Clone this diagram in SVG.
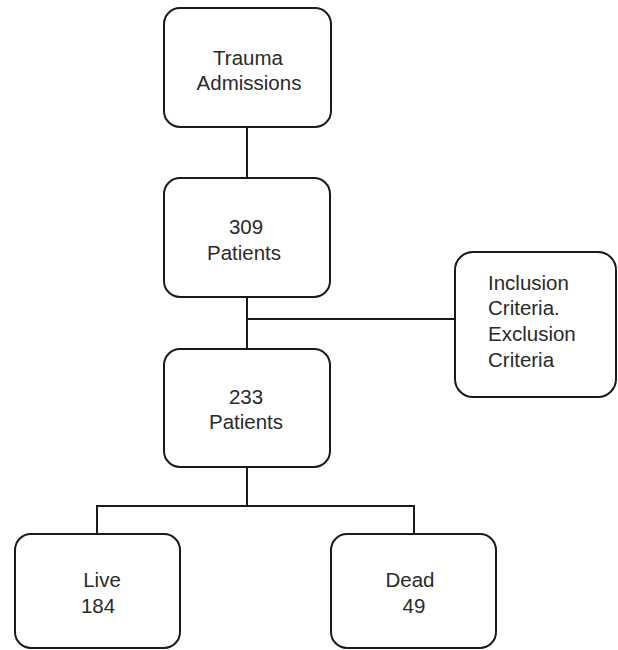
<svg xmlns="http://www.w3.org/2000/svg" width="618" height="650" viewBox="0 0 618 650">
<style>
.box{fill:#fff;stroke:#1a1a1a;stroke-width:2}
.ln{fill:none;stroke:#1a1a1a;stroke-width:2}
text{font-family:"Liberation Sans",Arial,sans-serif;font-size:20.5px;fill:#2a2a2a}
.c{text-anchor:middle}
</style>
<rect width="618" height="650" fill="#fff"/>
<g id="connectors">
<line class="ln" x1="247" y1="127" x2="247" y2="177"/>
<line class="ln" x1="247" y1="297" x2="247" y2="348"/>
<line class="ln" x1="247" y1="319" x2="455" y2="319"/>
<line class="ln" x1="247" y1="467" x2="247" y2="506"/>
<polyline class="ln" points="97,534 97,506 414,506 414,534"/>
</g>
<g id="trauma">
<rect class="box" x="164" y="8" width="167" height="119" rx="16"/>
<text class="c" x="248" y="65">Trauma</text>
<text class="c" x="249" y="90">Admissions</text>
</g>
<g id="p309">
<rect class="box" x="164" y="178" width="166" height="119" rx="16"/>
<text class="c" x="246" y="234">309</text>
<text class="c" x="244" y="260">Patients</text>
</g>
<g id="criteria">
<rect class="box" x="455" y="252" width="161" height="145" rx="18"/>
<text x="488" y="290">Inclusion</text>
<text x="488" y="315">Criteria.</text>
<text x="488" y="341">Exclusion</text>
<text x="488" y="367">Criteria</text>
</g>
<g id="p233">
<rect class="box" x="164" y="349" width="166" height="118" rx="16"/>
<text class="c" x="246" y="404">233</text>
<text class="c" x="246" y="429">Patients</text>
</g>
<g id="live">
<rect class="box" x="15" y="534" width="165" height="114" rx="16"/>
<text class="c" x="102" y="587">Live</text>
<text class="c" x="98" y="613">184</text>
</g>
<g id="dead">
<rect class="box" x="331" y="534" width="165" height="114" rx="16"/>
<text class="c" x="410" y="587">Dead</text>
<text class="c" x="414" y="613">49</text>
</g>
</svg>
